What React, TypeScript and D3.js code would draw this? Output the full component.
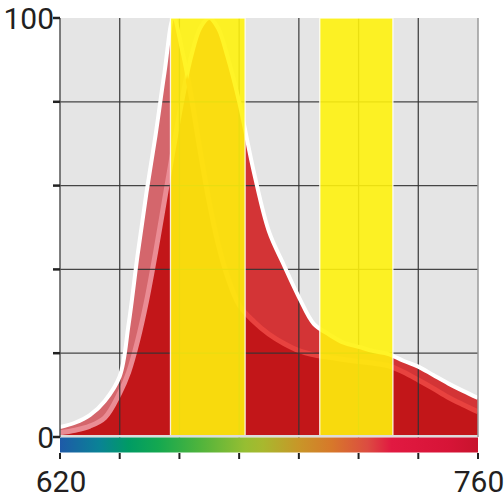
import React from 'react';
import * as d3 from 'd3';

const wavelengths = [620, 625, 630, 635, 640, 643, 646, 649, 652, 655, 658, 661, 664, 667, 670, 673, 676, 680, 685, 690, 695, 700, 705, 710, 715, 720, 725, 730, 735, 740, 745, 750, 755, 760];
const seriesA = [2.4, 3.4, 5.2, 8.6, 14.5, 27, 43.5, 58.5, 72, 87, 100, 92, 81, 68, 56, 46, 38.5, 31.5, 27.5, 24.5, 22.3, 20.6, 19.6, 19, 18.5, 18, 17.6, 17, 15.5, 13.6, 11.6, 9.5, 7.7, 6];
const seriesB = [1.0, 1.6, 2.6, 4.6, 10.5, 15.5, 23, 32.5, 44, 56.5, 69, 81, 91, 97.7, 100, 97.5, 91, 80, 63, 49, 41, 33.4, 27, 24.5, 22.5, 21.5, 20.5, 19.8, 18.2, 16.8, 14.8, 12.8, 11, 9.3];
const bands = [[657, 682], [707, 731.5]];
const xTicks = [620, 640, 660, 680, 700, 720, 740, 760];
const xLabels = [620, 760];
const yTicks = [0, 20, 40, 60, 80, 100];
const yLabels = [0, 100];
const spectrumStops: [number, string][] = [
  [620, '#1e5aa8'], [633, '#0a8296'], [643, '#009b64'], [653, '#14a850'], [667, '#50b43c'],
  [682, '#96be32'], [688, '#a8b82e'], [700, '#c89628'], [711, '#d7782a'], [723, '#dc4c41'],
  [731, '#e11941'], [750, '#d71437'], [760, '#c8142d'],
];

const L = 60, R = 478, T = 18, B = 437;

export default function App() {
  const x = d3.scaleLinear().domain([620, 760]).range([L, R]);
  const y = d3.scaleLinear().domain([0, 100]).range([B, T]);
  const ptsA = wavelengths.map((w, i) => [w, seriesA[i]]);
  const ptsB = wavelengths.map((w, i) => [w, seriesB[i]]);
  const curve = d3.curveCatmullRom.alpha(0.5);
  const area = d3.area<number[]>().x(d => x(d[0])).y0(y(0)).y1(d => y(d[1])).curve(curve);
  const line = d3.line<number[]>().x(d => x(d[0])).y(d => y(d[1])).curve(curve);
  const areaA = area(ptsA) as string;
  const areaB = area(ptsB) as string;
  const lineA = line(ptsA) as string;
  const lineB = line(ptsB) as string;
  const font = 'Roboto, "Noto Sans", sans-serif';

  return (
    <svg width={504} height={504} style={{ position: 'absolute', left: 0, top: 0, display: 'block', background: '#fff' }}>
      <defs>
        <clipPath id="plotClip"><rect x={L} y={T} width={R - L} height={B - T} /></clipPath>
        <clipPath id="clipA"><path d={areaA} /></clipPath>
        <clipPath id="clipB"><path d={areaB} /></clipPath>
        <mask id="outA" maskUnits="userSpaceOnUse" x={0} y={0} width={504} height={504}>
          <rect x={0} y={0} width={504} height={504} fill="#fff" />
          <path d={areaA} fill="#000" />
        </mask>
        <mask id="outB" maskUnits="userSpaceOnUse" x={0} y={0} width={504} height={504}>
          <rect x={0} y={0} width={504} height={504} fill="#fff" />
          <path d={areaB} fill="#000" />
        </mask>
        <linearGradient id="spec" x1="0" x2="1" y1="0" y2="0">
          {spectrumStops.map(([w, c], i) => (
            <stop key={i} offset={(w - 620) / 140} stopColor={c} />
          ))}
        </linearGradient>
      </defs>

      <rect x={L} y={T} width={R - L} height={B - T} fill="#e5e5e5" />

      <g clipPath="url(#plotClip)">
        <path d={areaA} fill="#d4666c" />
        <path d={areaB} fill="#d33436" />
        <path d={areaA} fill="#c21619" clipPath="url(#clipB)" />
        <g clipPath="url(#clipA)">
          <path d={lineB} fill="none" stroke="#ea8c94" strokeWidth={5} />
        </g>
        <g clipPath="url(#clipB)">
          <path d={lineA} fill="none" stroke="#e8423f" strokeWidth={5} />
        </g>
      </g>

      {yTicks.filter(t => t > 0 && t < 100).map(t => (
        <line key={'hy' + t} x1={L} x2={R} y1={y(t)} y2={y(t)} stroke="#333" strokeOpacity={0.9} strokeWidth={1.3} />
      ))}
      {xTicks.filter(t => t > 620 && t < 760).map(t => (
        <line key={'vx' + t} x1={x(t)} x2={x(t)} y1={T} y2={B + 2} stroke="#333" strokeOpacity={0.9} strokeWidth={1.3} />
      ))}

      <g clipPath="url(#plotClip)">
        <path d={lineA} fill="none" stroke="#fff" strokeWidth={4} mask="url(#outB)" />
        <path d={lineB} fill="none" stroke="#fff" strokeWidth={4} mask="url(#outA)" />
      </g>

      {bands.map(([a, b], i) => (
        <rect key={'band' + i} x={x(a)} y={T} width={x(b) - x(a)} height={B - T}
          fill="rgb(255,243,12)" fillOpacity={0.89} stroke="#fff" strokeOpacity={0.85} strokeWidth={1.3} />
      ))}

      <rect x={L} y={B - 2} width={R - L} height={2.5} fill="#dcdcdc" />
      <rect x={L} y={B + 0.5} width={R - L} height={15} fill="url(#spec)" />

      <line x1={L} x2={L} y1={T} y2={B} stroke="#555" strokeWidth={1.5} />
      <line x1={R} x2={R} y1={T} y2={B} stroke="#9a9a9a" strokeWidth={1.5} />

      {yTicks.map(t => (
        <line key={'yt' + t} x1={L - 7} x2={L} y1={y(t)} y2={y(t)} stroke="#222" strokeWidth={2.5} />
      ))}
      {yLabels.map(t => (
        <text key={'yl' + t} x={L - 6} y={y(t) + 11} textAnchor="end" fontFamily={font} fontSize={30} fill="#231f20">{t}</text>
      ))}

      {xTicks.map(t => (
        <line key={'xt' + t} x1={x(t)} x2={x(t)} y1={B + 16} y2={B + 22} stroke="#222" strokeWidth={2} />
      ))}
      {xLabels.map(t => (
        <text key={'xl' + t} x={x(t) + 1} y={492} textAnchor="middle" fontFamily={font} fontSize={30} fill="#231f20">{t}</text>
      ))}
    </svg>
  );
}
